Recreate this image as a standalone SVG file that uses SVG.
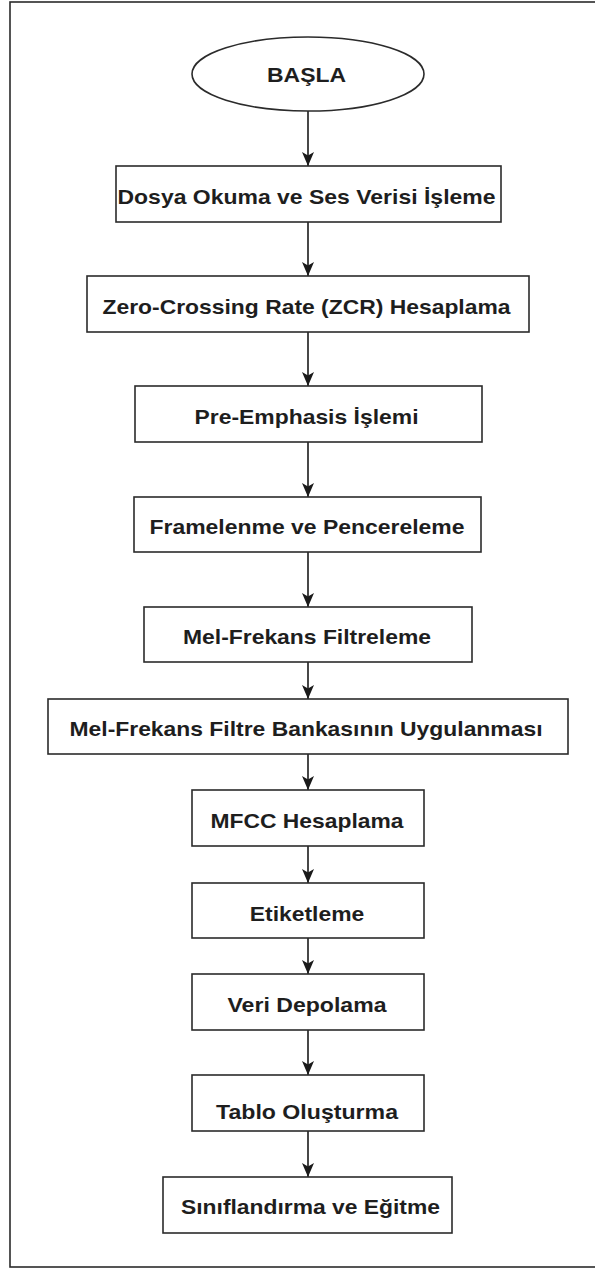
<svg xmlns="http://www.w3.org/2000/svg" width="595" height="1269" viewBox="0 0 595 1269">
<style>
.frame{fill:none;stroke:#2b2b2b;stroke-width:1.6}
.box{fill:#ffffff;stroke:#2b2b2b;stroke-width:1.6}
.lbl{font-family:"Liberation Sans",Arial,sans-serif;font-weight:bold;font-size:20.5px;fill:#1e1e1e;text-anchor:middle}
.edge{fill:none;stroke:#1a1a1a;stroke-width:1.6}
</style>
<defs>
<marker id="arr" markerUnits="userSpaceOnUse" markerWidth="16" markerHeight="14" viewBox="-15 -7 16 14" refX="0" refY="0" orient="auto">
<path d="M0,0 L-14,-6 L-10.5,0 L-14,6 Z" fill="#1a1a1a"/>
</marker>
</defs>
<rect x="0" y="0" width="595" height="1269" fill="#ffffff"/>
<rect class="frame" x="10" y="2" width="586" height="1265"/>
<g id="connectors">
<line class="edge" x1="308" y1="111" x2="308" y2="166" marker-end="url(#arr)"/>
<line class="edge" x1="308" y1="222" x2="308" y2="276" marker-end="url(#arr)"/>
<line class="edge" x1="308" y1="332" x2="308" y2="386" marker-end="url(#arr)"/>
<line class="edge" x1="308" y1="442" x2="308" y2="497" marker-end="url(#arr)"/>
<line class="edge" x1="308" y1="552" x2="308" y2="607" marker-end="url(#arr)"/>
<line class="edge" x1="308" y1="662" x2="308" y2="699" marker-end="url(#arr)"/>
<line class="edge" x1="308" y1="754" x2="308" y2="790" marker-end="url(#arr)"/>
<line class="edge" x1="308" y1="846" x2="308" y2="883" marker-end="url(#arr)"/>
<line class="edge" x1="308" y1="938" x2="308" y2="974" marker-end="url(#arr)"/>
<line class="edge" x1="308" y1="1030" x2="308" y2="1075" marker-end="url(#arr)"/>
<line class="edge" x1="308" y1="1131" x2="308" y2="1177" marker-end="url(#arr)"/>
</g>
<g id="n-basla">
<ellipse class="box" cx="308" cy="74" rx="116" ry="37"/>
<text class="lbl" x="306.5" y="82" textLength="79" lengthAdjust="spacingAndGlyphs">BAŞLA</text>
</g>
<g id="n-dosya">
<rect class="box" x="116" y="166" width="385" height="56"/>
<text class="lbl" x="306.5" y="204" textLength="378" lengthAdjust="spacingAndGlyphs">Dosya Okuma ve Ses Verisi İşleme</text>
</g>
<g id="n-zcr">
<rect class="box" x="87" y="276" width="442" height="56"/>
<text class="lbl" x="306.5" y="314" textLength="408" lengthAdjust="spacingAndGlyphs">Zero-Crossing Rate (ZCR) Hesaplama</text>
</g>
<g id="n-pre">
<rect class="box" x="135" y="386" width="347" height="56"/>
<text class="lbl" x="306.5" y="424" textLength="224" lengthAdjust="spacingAndGlyphs">Pre-Emphasis İşlemi</text>
</g>
<g id="n-frame">
<rect class="box" x="134" y="497" width="347" height="55"/>
<text class="lbl" x="307" y="534" textLength="315" lengthAdjust="spacingAndGlyphs">Framelenme ve Pencereleme</text>
</g>
<g id="n-melf">
<rect class="box" x="144" y="607" width="328" height="55"/>
<text class="lbl" x="307" y="644" textLength="248" lengthAdjust="spacingAndGlyphs">Mel-Frekans Filtreleme</text>
</g>
<g id="n-melbank">
<rect class="box" x="48" y="699" width="520" height="55"/>
<text class="lbl" x="306" y="736" textLength="473" lengthAdjust="spacingAndGlyphs">Mel-Frekans Filtre Bankasının Uygulanması</text>
</g>
<g id="n-mfcc">
<rect class="box" x="192" y="790" width="232" height="56"/>
<text class="lbl" x="307" y="828" textLength="193" lengthAdjust="spacingAndGlyphs">MFCC Hesaplama</text>
</g>
<g id="n-etiket">
<rect class="box" x="192" y="883" width="232" height="55"/>
<text class="lbl" x="307" y="920.5" textLength="114.5" lengthAdjust="spacingAndGlyphs">Etiketleme</text>
</g>
<g id="n-veri">
<rect class="box" x="192" y="974" width="232" height="56"/>
<text class="lbl" x="307" y="1012" textLength="159" lengthAdjust="spacingAndGlyphs">Veri Depolama</text>
</g>
<g id="n-tablo">
<rect class="box" x="192" y="1075" width="232" height="56"/>
<text class="lbl" x="307" y="1119" textLength="182" lengthAdjust="spacingAndGlyphs">Tablo Oluşturma</text>
</g>
<g id="n-sinif">
<rect class="box" x="163" y="1177" width="289" height="56"/>
<text class="lbl" x="310.5" y="1214" textLength="259" lengthAdjust="spacingAndGlyphs">Sınıflandırma ve Eğitme</text>
</g>
</svg>
